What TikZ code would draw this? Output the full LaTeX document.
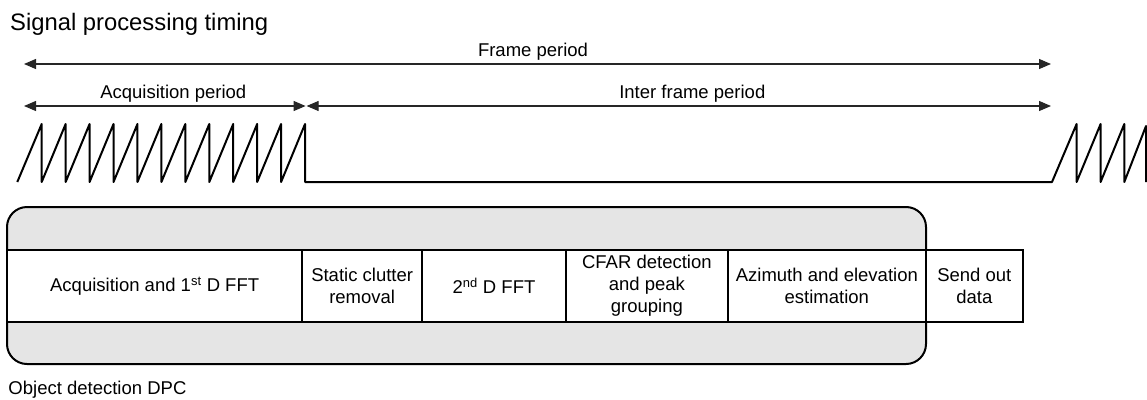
\documentclass[tikz,border=0pt]{standalone}
\usepackage{fontspec}
\setmainfont{Liberation Sans}
\usetikzlibrary{arrows.meta}
\begin{document}
\begin{tikzpicture}[x=1pt,y=-1pt,
  lbl/.style={font=\fontsize{18.5}{22}\selectfont, inner sep=0pt},
  dim/.style={line width=1.1pt, draw=black!85, {Triangle[length=12pt,width=10pt]}-{Triangle[length=12pt,width=10pt]}},
  saw/.style={line width=2pt, line join=round},
  cell/.style={draw, line width=2pt, fill=white, inner sep=0pt, minimum height=72pt,
    align=center, font=\fontsize{18.5}{22}\selectfont},
  dpcbox/.style={draw, line width=2pt, fill=black!10, rounded corners=20pt, inner sep=0pt}
]
\useasboundingbox (0,0) rectangle (1147,399);

% title
\node[anchor=base west, inner sep=0pt, font=\fontsize{23.8}{26}\selectfont] (title) at (10,30) {Signal processing timing};

% dimension arrows
\coordinate (fL) at (24,64);
\coordinate (fR) at (1051,64);
\coordinate (aL) at (24,106);
\coordinate (aR) at (305.6,106);
\coordinate (iL) at (306.6,106);
\coordinate (iR) at (1051,106);
\draw[dim] (fL) -- (fR);
\draw[dim] (aL) -- (aR);
\draw[dim] (iL) -- (iR);
\node[lbl, anchor=base] (flab) at (533,56) {Frame period};
\node[lbl, anchor=base] (alab) at (173.3,98.3) {Acquisition period};
\node[lbl, anchor=base] (ilab) at (692.3,98.3) {Inter frame period};

% sawtooth chirps
\draw[saw] (17.3,182)
  \foreach \i in {0,...,11} { -- ({41.7+23.94*\i},124) -- ({41.7+23.94*\i},182) }
  -- (1052,182)
  -- (1076.6,124) -- (1076.6,182)
  -- (1100.6,124) -- (1100.6,182)
  -- (1124.3,124) -- (1124.3,182)
  -- (1146,126) -- (1146,182);

% object detection DPC container
\node[dpcbox, minimum width=919pt, minimum height=157pt] (dpc) at (466.5,285.5) {};

% processing stages
\node[cell, minimum width=295.3pt] (s1) at (154.65,286) {Acquisition and 1\textsuperscript{st} D FFT};
\node[cell, minimum width=119.7pt] (s2) at (362.15,286) {Static clutter\\removal};
\node[cell, minimum width=144pt]   (s3) at (494,286) {2\textsuperscript{nd} D FFT};
\node[cell, minimum width=161.7pt] (s4) at (646.85,286) {CFAR detection\\and peak\\grouping};
\node[cell, minimum width=198.3pt] (s5) at (826.85,286) {Azimuth and elevation\\estimation};
\node[cell, minimum width=96.7pt]  (s6) at (974.35,286) {Send out\\data};

\node[lbl, anchor=base west] (dpclab) at (8.3,394) {Object detection DPC};
\end{tikzpicture}
\end{document}
